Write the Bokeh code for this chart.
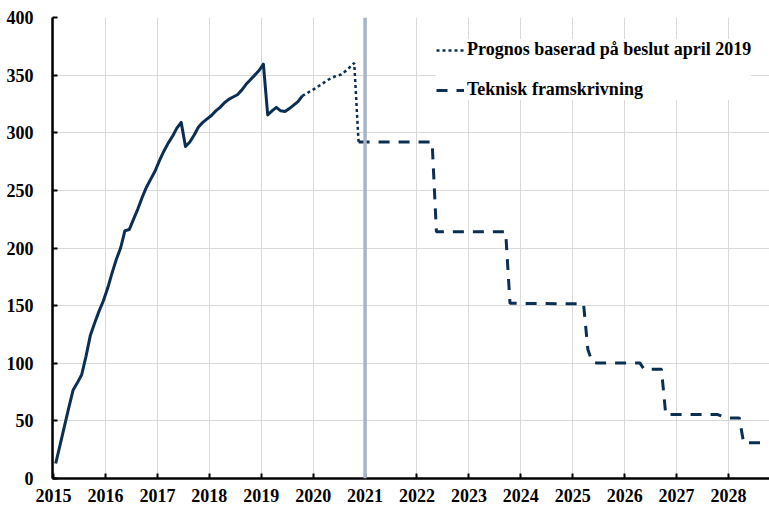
import pandas as pd
from bokeh.plotting import figure
from bokeh.models import Range1d, FixedTicker, Span, Legend, LegendItem
from bokeh.embed import file_html
from bokeh.resources import INLINE

# ---- data ----
actual_start, actual_end = "2015-01", "2019-10"
actual_values = [13, 29, 45, 61, 76.5, 83, 90, 106, 124, 135,
                 145, 154, 165, 178, 190, 200, 215, 216, 225, 234,
                 244, 253, 260, 267, 276, 284, 291, 297, 304, 309,
                 288, 292, 298, 305, 309, 312, 315, 319, 322, 326,
                 329, 331, 333, 337, 342, 346, 350, 354, 359.5, 315.5,
                 319, 322, 319, 318.5, 321, 324, 327, 332]

prognos_start, prognos_end = "2019-10", "2020-11"
prognos_values = [332, 334, 336.5, 338.5, 341, 343.5, 346, 348, 349.5, 350.5,
                  353.5, 357, 360.5, 292]

teknisk_months = ["2020-11", "2022-04", "2022-05", "2023-09", "2023-10",
                  "2025-03", "2025-04", "2025-05", "2025-06", "2026-04",
                  "2026-05", "2026-09", "2026-10", "2027-10", "2027-11",
                  "2027-12", "2028-03", "2028-04", "2028-12"]
teknisk_values = [292, 292, 214, 214, 152,
                  151.5, 112, 101, 100.3, 100.3,
                  94.8, 94.8, 55.5, 55.5, 54,
                  52.6, 52.6, 31, 31]

year_ticks = list(range(2015, 2029))
year_labels = [str(y) for y in year_ticks]
y_ticks = [0, 50, 100, 150, 200, 250, 300, 350, 400]
divider_year = 2021

label_prognos = "Prognos baserad på beslut april 2019"
label_teknisk = "Teknisk framskrivning"


def to_dec(periods):
    per = pd.PeriodIndex(periods, freq="M")
    return [p.year + (p.month - 0.5) / 12 for p in per]


actual_x = to_dec(pd.period_range(actual_start, actual_end, freq="M"))
prognos_x = to_dec(pd.period_range(prognos_start, prognos_end, freq="M"))
teknisk_x = to_dec(teknisk_months)

NAVY = "#0b2f52"
FONT = "Liberation Serif"

p = figure(width=769, height=505, output_backend="svg", toolbar_location=None,
           x_range=Range1d(2014.98, 2028.79), y_range=Range1d(0, 400),
           min_border_left=52, min_border_right=0, min_border_top=17,
           min_border_bottom=27)
p.outline_line_color = None
p.background_fill_color = "white"

# grid
p.xgrid.ticker = FixedTicker(ticks=year_ticks)
p.ygrid.ticker = FixedTicker(ticks=y_ticks)
for g in (p.xgrid, p.ygrid):
    g.grid_line_color = "#d9d9d9"
    g.grid_line_width = 1

# axes
p.xaxis.ticker = FixedTicker(ticks=year_ticks)
p.xaxis.major_label_overrides = {t: l for t, l in zip(year_ticks, year_labels)}
p.yaxis.ticker = FixedTicker(ticks=y_ticks)
for ax in (p.xaxis, p.yaxis):
    ax.axis_line_color = "black"
    ax.axis_line_width = 2.5
    ax.major_tick_line_color = "black"
    ax.major_tick_line_width = 2
    ax.major_tick_in = 5
    ax.major_tick_out = 0
    ax.minor_tick_line_color = None
    ax.major_label_text_font = FONT
    ax.major_label_text_font_style = "bold"
    ax.major_label_text_font_size = "18px"
    ax.major_label_text_color = "black"
p.xaxis.major_label_standoff = 10
p.yaxis.major_label_standoff = 19

# divider
p.add_layout(Span(location=divider_year, dimension="height",
                  line_color="#a7b5ca", line_width=3.5))

r_act = p.line(actual_x, actual_values, line_color=NAVY, line_width=3,
               line_join="round")
r_prog = p.line(prognos_x, prognos_values, line_color=NAVY, line_width=2.5,
                line_dash="3 3")
r_tek = p.line(teknisk_x, teknisk_values, line_color=NAVY, line_width=3,
               line_dash="11 9")

legend = Legend(items=[LegendItem(label=label_prognos, renderers=[r_prog]),
                       LegendItem(label=label_teknisk, renderers=[r_tek])],
                location=(384, 378))
legend.border_line_color = None
legend.background_fill_color = "white"
legend.background_fill_alpha = 1
legend.label_text_font = FONT
legend.label_text_font_style = "bold"
legend.label_text_font_size = "18px"
legend.label_text_color = "black"
legend.glyph_width = 28
legend.glyph_height = 20
legend.label_height = 20
legend.label_standoff = 3
legend.spacing = 19
legend.padding = 14
legend.margin = 0
p.add_layout(legend)

open("out.html", "w").write(file_html(p, INLINE))
